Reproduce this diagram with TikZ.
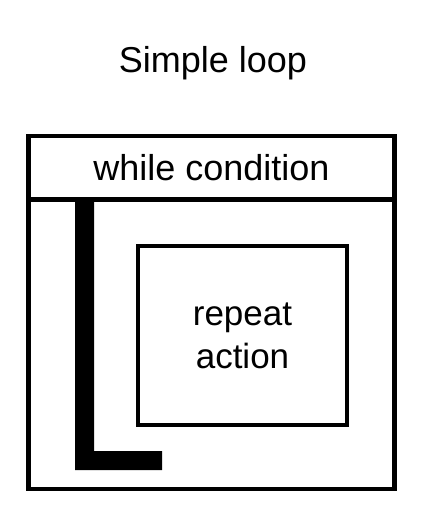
\documentclass[tikz,border=0pt]{standalone}
\usepackage{fontspec}
\setmainfont{Liberation Sans}
\begin{document}
\begin{tikzpicture}[x=1pt,y=-1pt,
  frame/.style={draw=black, line width=4.3pt, fill=none, inner sep=0pt, outer sep=0pt},
  bigtext/.style={font=\fontsize{36}{43}\selectfont},
  bodytext/.style={font=\fontsize{35}{43}\selectfont, align=center}]
\useasboundingbox (0,0) rectangle (432,518);
\node[bigtext, anchor=base] (title) at (213,73) {Simple loop};
\node[frame, minimum width=366pt, minimum height=353pt] (outer) at (211.5,312.5) {};
\node[frame, bigtext, minimum width=366pt, minimum height=63.5pt, text height=26pt, text depth=0pt] (cond) at (211.5,167.75) {while condition};
\node[frame, bodytext, minimum width=209pt, minimum height=179pt] (body) at (242.5,335.5) {repeat\\action};
\fill[black] (75,199.5) -- (94,199.5) -- (94,451) -- (162,451) -- (162,470) -- (75,470) -- cycle;
\end{tikzpicture}
\end{document}
